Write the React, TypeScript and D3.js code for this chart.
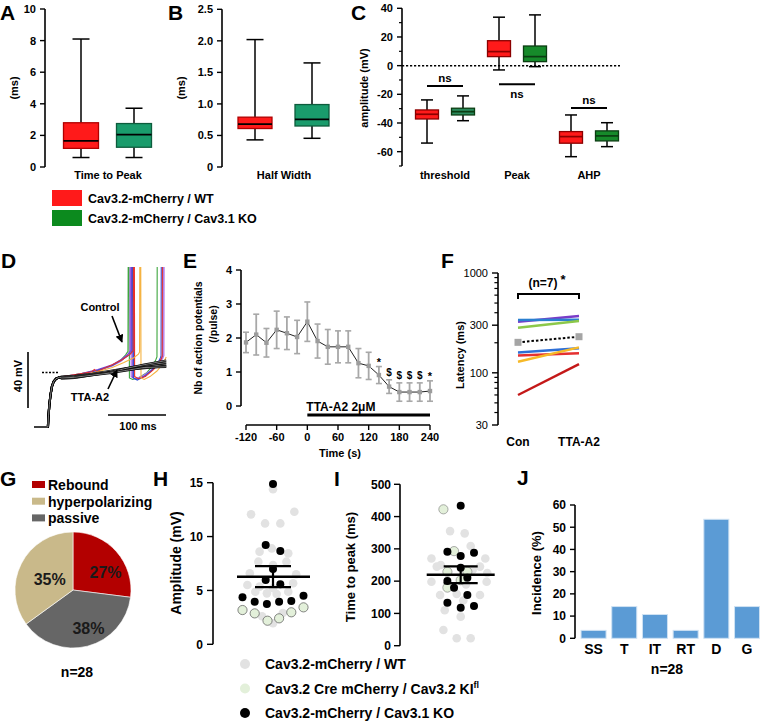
import React from "react";
import * as d3 from "d3";

const FF = "'Liberation Sans', Arial, Helvetica, sans-serif";

// ---------- DATA ----------
// box stats: [min, q1, median, q3, max]
const aWT = [0.6, 1.18, 1.65, 2.8, 8.1];
const aKO = [0.6, 1.25, 2.05, 2.75, 3.72];
const aTicks = [0, 2, 4, 6, 8, 10];
const bWT = [0.43, 0.61, 0.68, 0.79, 2.02];
const bKO = [0.455, 0.65, 0.756, 0.99, 1.65];
const bTicks = [0, 0.5, 1.0, 1.5, 2.0, 2.5];
const cCategories = ["threshold", "Peak", "AHP"];
const cWT = [
  [-54, -37.2, -33.9, -30.9, -23.9],
  [-3, 6.3, 9.8, 17.4, 33.8],
  [-63.5, -54.1, -49.5, -46, -34.4],
];
const cKO = [
  [-38.4, -34.4, -32.1, -29.7, -21.1],
  [-0.7, 2.8, 6.3, 13.7, 35.4],
  [-56.5, -52.5, -49, -45.5, -39.8],
];
const cNsLevel = [-14.2, -13, -29.5];
const cTicks = [40, 20, 0, -20, -40, -60];
const cMinor = [30, 10, -10, -30, -50, -70];
const legendAC = ["Cav3.2-mCherry / WT", "Cav3.2-mCherry / Cav3.1 KO"];

// D traces: [time ms, mV]
const dStart = [[0, -90], [24, -90], [25, -82], [26.5, -74], [28.5, -67], [31, -61], [34, -57.5], [38, -55.5], [44, -54.5]];
const dControl = [
  { color: "#3da63d", pts: [[50, -54], [80, -52], [110, -49.5], [135, -46], [150, -42], [158, -38.5], [162, -36], [162.5, 40], [164, 40], [164.5, -55], [170, -56], [180, -55], [195, -51], [205, -46], [210, -42], [212, -40], [212.5, 40]] },
  { color: "#b57be8", pts: [[50, -54.5], [80, -52.5], [110, -50], [135, -46.5], [150, -43], [160, -39], [165, -36.5], [165.5, 40], [167, 40], [167.5, -54], [174, -55.5], [185, -54], [200, -50], [215, -45], [222, -41], [224, -39], [224.5, 40]] },
  { color: "#8040d8", pts: [[50, -54], [80, -52], [110, -49], [135, -45.5], [150, -42], [162, -38], [167, -35.5], [167.5, 40], [169, 40], [169.5, -54.5], [176, -56], [188, -54], [202, -50], [214, -45], [220, -41], [222, -39], [222.5, 40]] },
  { color: "#3050d8", pts: [[50, -54.5], [80, -52.5], [110, -49.5], [135, -46], [152, -42], [164, -38.5], [169, -36], [169.5, 40], [171, 40], [171.5, -55], [178, -56.5], [190, -54], [204, -49], [214, -44], [218, -40.5], [219, -39], [219.5, 40]] },
  { color: "#e8302a", pts: [[50, -54], [80, -52], [100, -50.5], [104, -49], [108, -50.5], [135, -45.5], [152, -42], [166, -38], [171, -35.5], [171.5, 40], [173, 40], [173.5, -54], [180, -55.5], [192, -54], [206, -49], [216, -44], [220, -40.5], [221, -39], [221.5, 40]] },
  { color: "#f5b342", pts: [[50, -54.5], [80, -53], [110, -50.5], [135, -47.5], [155, -44], [172, -40.5], [180, -38], [182, -36.5], [182.5, 40], [184, 40], [184.5, -55], [190, -56], [200, -54], [212, -50], [222, -45], [228, -40]] },
];
const dTTA = [
  [[48, -55], [70, -54], [100, -52.5], [130, -50.5], [160, -48.5], [190, -47], [228, -45.5]],
  [[48, -54], [70, -53.5], [100, -52], [130, -50], [160, -48], [190, -46], [228, -44]],
  [[48, -55.5], [70, -55], [100, -53], [130, -51], [160, -49], [190, -48], [228, -46.5]],
  [[48, -54.5], [70, -54], [100, -52.5], [130, -51], [160, -48], [190, -45.5], [228, -42.5]],
  [[48, -55], [70, -54.5], [100, -53], [130, -51.5], [160, -49.5], [190, -47.5], [228, -47]],
];

// E
const eTime = [-120, -100, -80, -60, -40, -20, 0, 20, 40, 60, 80, 100, 120, 140, 160, 180, 200, 220, 240];
const eMean = [1.87, 2.1, 1.86, 2.24, 2.14, 2.03, 2.48, 1.91, 1.74, 1.74, 1.74, 1.26, 1.18, 0.91, 0.57, 0.41, 0.41, 0.41, 0.44];
const eSem = [0.3, 0.6, 0.42, 0.55, 0.48, 0.49, 0.58, 0.5, 0.51, 0.47, 0.47, 0.43, 0.4, 0.25, 0.2, 0.27, 0.27, 0.27, 0.3];
const eMarks = ["", "", "", "", "", "", "", "", "", "", "", "", "", "*", "$", "$", "$", "$", "*"];
const eXTicks = [-120, -60, 0, 60, 120, 180, 240];
const eYTicks = [0, 1, 2, 3, 4];

// F
const fConds = ["Con", "TTA-A2"];
const fCells = [
  { color: "#7a3cc8", con: 325, tta: 371 },
  { color: "#2a7fd0", con: 338, tta: 340 },
  { color: "#8cc84a", con: 283, tta: 330 },
  { color: "#2e6fd6", con: 160, tta: 176 },
  { color: "#e53030", con: 149, tta: 157 },
  { color: "#f6b928", con: 129, tta: 180 },
  { color: "#c41818", con: 60, tta: 122 },
];
const fMean = [202, 230];
const fMajor = [30, 100, 300, 1000];
const fMinor = [40, 50, 60, 70, 80, 90, 200, 400, 500, 600, 700, 800, 900];

// G
const gSlices = [
  { name: "Rebound", value: 27, color: "#b30000" },
  { name: "passive", value: 38, color: "#666666" },
  { name: "hyperpolarizing", value: 35, color: "#c9b98a" },
];
const gLegendOrder = ["Rebound", "hyperpolarizing", "passive"];

// H: [value, jitter slot]
const hGrey = [[14.4, 0], [12.06, -1.8], [12.3, 1.75], [11.22, -0.65], [11.22, 0.6], [8.9, -0.1], [8.6, -1.1], [8.44, 1.25], [7.67, -1.2], [7.67, 1.1], [7.36, 0], [6.6, -1.9], [6.5, 1.9], [5.5, -2.1], [5.66, 1.65], [5.35, -1.1], [5.2, 0], [4.88, -1.45], [4.88, 1.25], [4.73, -0.5], [4.67, 0.3], [1.95, 0], [2.6, -0.9], [2.9, 0.8]];
const hGreen = [[3.18, -2.5], [2.87, -1.5], [2.19, -0.45], [2.41, 0.5], [2.97, 1.5], [3.43, 2.5]];
const hBlack = [[14.87, 0], [9.21, -0.6], [8.66, 0.6], [6.98, 0], [5.96, -0.6], [5.57, 0.6], [4.36, -2.5], [3.95, -1.5], [3.74, -0.5], [3.95, 0.5], [4.02, 1.5], [4.51, 2.5]];
const hStats = { mean: 6.27, hi: 7.26, lo: 5.3 };
const hTicks = [0, 5, 10, 15];

// I
const iGrey = [[355, -0.8], [348, 0.3], [309, 0.75], [270, -2.2], [270, 1.85], [250, -1.5], [245, -1.8], [245, 1.45], [235, 0.9], [225, 2.0], [198, -2.2], [198, 1.95], [190, 0.4], [157, -1.55], [157, 1.45], [110, -1.2], [90, 0], [48.6, -1.3], [23, -0.3], [23, 0.75], [160, -0.3], [140, 0.2]];
const iGreen = [[422.5, -1.3], [293, -0.5], [229, -1], [229, 0.5], [180, -1], [203, 0]];
const iBlack = [[433.7, 0], [291, -1], [288, 1], [278, 0], [241.6, 0], [210.7, 0.5], [200.4, -1], [179.7, -0.5], [157, 0.5], [133, -1], [117.7, 0], [123, 1]];
const iStats = { mean: 220, hi: 246, lo: 194 };
const iTicks = [0, 100, 200, 300, 400, 500];
const hiLegend = ["Cav3.2-mCherry / WT", "Cav3.2 Cre mCherry / Cav3.2 KI", "Cav3.2-mCherry / Cav3.1 KO"];

// J
const jCats = ["SS", "T", "IT", "RT", "D", "G"];
const jVals = [3.57, 14.29, 10.71, 3.57, 53.57, 14.29];
const jTicks = [0, 10, 20, 30, 40, 50, 60];

// ---------- COLORS ----------
const RED = "#ff1a1a";
const GREEN_AB = "#1a9c6c";
const GREEN_C = "#168a2a";
const GREEN_LEG = "#0c8a1e";

// ---------- HELPERS ----------
function YAxis({ x, y, ticks, minor = [], fmt = (d: number) => String(d), fs = 11, bold = true, tick = 5, lo, hi, gap = 4 }: any) {
  return (
    <g>
      <line x1={x} x2={x} y1={y(lo)} y2={y(hi)} stroke="#000" strokeWidth={1.6} />
      {ticks.map((t: number) => (
        <g key={"t" + t}>
          <line x1={x - tick} x2={x} y1={y(t)} y2={y(t)} stroke="#000" strokeWidth={1.4} />
          <text x={x - tick - gap} y={y(t)} dy="0.36em" textAnchor="end" fontSize={fs} fontWeight={bold ? "bold" : "normal"}>{fmt(t)}</text>
        </g>
      ))}
      {minor.map((t: number) => (
        <line key={"m" + t} x1={x - tick * 0.6} x2={x} y1={y(t)} y2={y(t)} stroke="#000" strokeWidth={1.2} />
      ))}
    </g>
  );
}

function Box({ cx, w, v, y, fill, stroke, med, capW }: any) {
  const [mn, q1, md, q3, mx] = v;
  return (
    <g>
      <line x1={cx} x2={cx} y1={y(mn)} y2={y(q1)} stroke="#000" strokeWidth={1.5} />
      <line x1={cx} x2={cx} y1={y(q3)} y2={y(mx)} stroke="#000" strokeWidth={1.5} />
      <line x1={cx - capW / 2} x2={cx + capW / 2} y1={y(mn)} y2={y(mn)} stroke="#000" strokeWidth={1.5} />
      <line x1={cx - capW / 2} x2={cx + capW / 2} y1={y(mx)} y2={y(mx)} stroke="#000" strokeWidth={1.5} />
      <rect x={cx - w / 2} y={y(q3)} width={w} height={y(q1) - y(q3)} fill={fill} stroke={stroke} strokeWidth={1.3} />
      <line x1={cx - w / 2} x2={cx + w / 2} y1={y(md)} y2={y(md)} stroke={med} strokeWidth={1.7} />
    </g>
  );
}

function RotLabel({ x, y, text, fs = 11, bold = true }: any) {
  return (
    <text transform={`translate(${x},${y}) rotate(-90)`} textAnchor="middle" dy="0.35em" fontSize={fs} fontWeight={bold ? "bold" : "normal"}>{text}</text>
  );
}

function PanelLetter({ x, y, l }: any) {
  return <text x={x} y={y} fontSize={21} fontWeight="bold">{l}</text>;
}

export default function App() {
  // ---- A ----
  const aY = d3.scaleLinear().domain([0, 10]).range([167, 9]);
  const aX = 108;
  // ---- B ----
  const bY = d3.scaleLinear().domain([0, 2.5]).range([167, 9.3]);
  const bX = 284;
  // ---- C ----
  const cY = d3.scaleLinear().domain([-70, 40]).range([166, 8.3]);
  const cX = d3.scalePoint().domain(cCategories).range([445, 589]);
  const cOff = 18;

  // ---- D ----
  const dX = d3.scaleLinear().domain([0, 100]).range([34, 92]);
  const dY = d3.scaleLinear().domain([-90, -50]).range([427, 371]);
  const dLine = d3.line<number[]>().x((d) => dX(d[0])).y((d) => dY(d[1]));

  // ---- E ----
  const eX = d3.scaleLinear().domain([-120, 240]).range([246, 430]);
  const eY = d3.scaleLinear().domain([0, 4]).range([406, 270]);
  const eLine = d3.line<number>().x((_, i) => eX(eTime[i])).y((d) => eY(d));

  // ---- F ----
  const fY = d3.scaleLog().domain([30, 1000]).range([425, 273]);
  const fX = d3.scalePoint().domain(fConds).range([518, 579]);

  // ---- G ----
  const gCx = 73, gCy = 590, gR = 58;
  const pie = d3.pie<any>().sort(null).value((d) => d.value);
  const arcs = pie(gSlices);
  const arc = d3.arc<any>().innerRadius(0).outerRadius(gR);
  const labArc = d3.arc<any>().innerRadius(34).outerRadius(34);

  // ---- H ----
  const hY = d3.scaleLinear().domain([0, 15]).range([644.3, 482.7]);
  const hX = d3.scaleLinear().domain([-1, 1]).range([273 - 12.2, 273 + 12.2]);
  // ---- I ----
  const iY = d3.scaleLinear().domain([0, 500]).range([645.7, 484.3]);
  const iX = d3.scaleLinear().domain([-1, 1]).range([460.7 - 13.3, 460.7 + 13.3]);

  // ---- J ----
  const jY = d3.scaleLinear().domain([0, 60]).range([638.3, 505]);
  const jX = d3.scaleBand().domain(jCats).range([578.2, 762.4]).paddingInner(0.185).paddingOuter(0.0925);

  return (
    <svg width={760} height={721} style={{ position: "absolute", left: 0, top: 0, background: "#fff" }} fontFamily={FF}>
      <defs>
        <marker id="arr" viewBox="0 0 10 10" refX="9" refY="5" markerWidth="5" markerHeight="5" orient="auto">
          <path d="M0,0 L10,5 L0,10 z" fill="#000" />
        </marker>
        <clipPath id="dclip">
          <rect x={0} y={267} width={200} height={180} />
        </clipPath>
      </defs>
      <rect x={0} y={0} width={760} height={721} fill="#fff" />

      {/* ================= A ================= */}
      <PanelLetter x={0} y={20} l="A" />
      <YAxis x={45} y={aY} ticks={aTicks} lo={0} hi={10} />
      <RotLabel x={14} y={88} text="(ms)" />
      <Box cx={aX - 27} w={35} v={aWT} y={aY} fill={RED} stroke="#b00000" med="#000" capW={17} />
      <Box cx={aX + 26} w={35} v={aKO} y={aY} fill={GREEN_AB} stroke="#0d5c3c" med="#000" capW={17} />
      <text x={aX} y={179} textAnchor="middle" fontSize={11} fontWeight="bold">Time to Peak</text>

      {/* ================= B ================= */}
      <PanelLetter x={168} y={20} l="B" />
      <YAxis x={222} y={bY} ticks={bTicks} lo={0} hi={2.5} fmt={(d: number) => (d === 0 ? "0" : d.toFixed(1))} />
      <RotLabel x={181} y={88} text="(ms)" />
      <Box cx={bX - 29} w={34} v={bWT} y={bY} fill={RED} stroke="#b00000" med="#000" capW={17} />
      <Box cx={bX + 28} w={34} v={bKO} y={bY} fill={GREEN_AB} stroke="#0d5c3c" med="#000" capW={17} />
      <text x={bX} y={179} textAnchor="middle" fontSize={11} fontWeight="bold">Half Width</text>

      {/* ================= C ================= */}
      <PanelLetter x={351} y={20} l="C" />
      <YAxis x={402} y={cY} ticks={cTicks} minor={cMinor} lo={-70} hi={40} tick={5} />
      <RotLabel x={364} y={88} text="amplitude (mV)" />
      <line x1={402} x2={620} y1={cY(0)} y2={cY(0)} stroke="#000" strokeWidth={1.5} strokeDasharray="2.2,1.8" />
      {cCategories.map((c, i) => {
        const cx = cX(c) as number;
        return (
          <g key={c}>
            <Box cx={cx - cOff} w={23} v={cWT[i]} y={cY} fill={RED} stroke="#8b0000" med="#8b0000" capW={12} />
            <Box cx={cx + cOff} w={23} v={cKO[i]} y={cY} fill={i === 0 ? "#2a8a5c" : GREEN_C} stroke="#0b3d12" med="#0b3d12" capW={12} />
            <line x1={cx - cOff} x2={cx + cOff} y1={cY(cNsLevel[i])} y2={cY(cNsLevel[i])} stroke="#000" strokeWidth={2} />
            <text x={cx} y={cY(cNsLevel[i]) + (i === 1 ? 14 : -4)} textAnchor="middle" fontSize={11.5} fontWeight="bold">ns</text>
            <text x={cx} y={179} textAnchor="middle" fontSize={11} fontWeight="bold">{c}</text>
          </g>
        );
      })}

      {/* legend A-C */}
      {legendAC.map((t, i) => (
        <g key={t}>
          <rect x={52} y={190 + i * 20} width={30} height={16} fill={i === 0 ? RED : GREEN_LEG} />
          <text x={88} y={198 + i * 20} dy="0.36em" fontSize={12.5} fontWeight="bold">{t}</text>
        </g>
      ))}

      {/* ================= D ================= */}
      <PanelLetter x={1} y={268} l="D" />
      <g clipPath="url(#dclip)">
        {dControl.map((tr, i) => (
          <path key={"c" + i} d={dLine(dStart.concat(tr.pts)) || ""} fill="none" stroke={tr.color} strokeWidth={1.1} />
        ))}
        {dTTA.map((tr, i) => (
          <g key={"t" + i}>
            <path d={dLine(dStart.concat(tr)) || ""} fill="none" stroke="#000" strokeWidth={2.2} />
            <path d={dLine(dStart.concat(tr)) || ""} fill="none" stroke="#fff" strokeWidth={0.5} />
          </g>
        ))}
      </g>
      <line x1={42} x2={58} y1={dY(-51)} y2={dY(-51)} stroke="#000" strokeWidth={1.5} strokeDasharray="2,1.5" />
      {/* scale bars */}
      <line x1={28} x2={28} y1={408} y2={408 - (dY(-90) - dY(-50))} stroke="#000" strokeWidth={1.6} />
      <RotLabel x={18} y={376} text="40 mV" />
      <line x1={108} x2={108 + (dX(100) - dX(0))} y1={415} y2={415} stroke="#000" strokeWidth={1.6} />
      <text x={138} y={430} textAnchor="middle" fontSize={11} fontWeight="bold">100 ms</text>
      <text x={100} y={311} textAnchor="middle" fontSize={11} fontWeight="bold">Control</text>
      <line x1={112} y1={316} x2={122} y2={342} stroke="#000" strokeWidth={1.6} markerEnd="url(#arr)" />
      <text x={90} y={401} textAnchor="middle" fontSize={11} fontWeight="bold">TTA-A2</text>
      <line x1={108} y1={389} x2={117} y2={370} stroke="#000" strokeWidth={1.6} markerEnd="url(#arr)" />

      {/* ================= E ================= */}
      <PanelLetter x={183} y={268} l="E" />
      <YAxis x={241} y={eY} ticks={eYTicks} lo={0} hi={4} />
      <RotLabel x={198} y={338} text="Nb of action potentials" fs={10.5} />
      <RotLabel x={213} y={324} text="(/pulse)" fs={10.5} />
      <line x1={eX(-120)} x2={eX(240)} y1={425} y2={425} stroke="#000" strokeWidth={1.6} />
      {eXTicks.map((t) => (
        <g key={t}>
          <line x1={eX(t)} x2={eX(t)} y1={425} y2={430} stroke="#000" strokeWidth={1.4} />
          <text x={eX(t)} y={441} textAnchor="middle" fontSize={11} fontWeight="bold">{t}</text>
        </g>
      ))}
      <text x={340} y={457} textAnchor="middle" fontSize={11} fontWeight="bold">Time (s)</text>
      <path d={eLine(eMean) || ""} fill="none" stroke="#222" strokeWidth={1} />
      {eMean.map((m, i) => {
        const x = eX(eTime[i]);
        return (
          <g key={i}>
            <line x1={x} x2={x} y1={eY(m - eSem[i])} y2={eY(m + eSem[i])} stroke="#a8a8a8" strokeWidth={1.8} />
            <line x1={x - 3} x2={x + 3} y1={eY(m - eSem[i])} y2={eY(m - eSem[i])} stroke="#a8a8a8" strokeWidth={1.6} />
            <line x1={x - 3} x2={x + 3} y1={eY(m + eSem[i])} y2={eY(m + eSem[i])} stroke="#a8a8a8" strokeWidth={1.6} />
            <rect x={x - 2.2} y={eY(m) - 2.2} width={4.4} height={4.4} fill="#9c9c9c" />
            {eMarks[i] && (
              <text x={x} y={eY(m + eSem[i]) - (eMarks[i] === "$" ? 4 : 1)} textAnchor="middle" fontSize={eMarks[i] === "$" ? 10 : 11} fontWeight="bold">{eMarks[i]}</text>
            )}
          </g>
        );
      })}
      <line x1={eX(0)} x2={eX(240)} y1={415} y2={415} stroke="#000" strokeWidth={3} />
      <text x={eX(0) - 1} y={411} fontSize={12} fontWeight="bold">TTA-A2 2μM</text>

      {/* ================= F ================= */}
      <PanelLetter x={441} y={268} l="F" />
      <YAxis x={498} y={fY} ticks={fMajor} minor={fMinor} lo={30} hi={1000} bold={false} tick={6} fs={11} />
      <RotLabel x={460} y={355} text="Latency (ms)" fs={11} />
      {fCells.map((c, i) => (
        <line key={i} x1={fX("Con")} x2={fX("TTA-A2")} y1={fY(c.con)} y2={fY(c.tta)} stroke={c.color} strokeWidth={2.4} />
      ))}
      <line x1={fX("Con")} x2={fX("TTA-A2")} y1={fY(fMean[0])} y2={fY(fMean[1])} stroke="#000" strokeWidth={2} strokeDasharray="2.5,2" />
      {fConds.map((c, i) => (
        <rect key={c} x={(fX(c) as number) - 3.5} y={fY(fMean[i]) - 3.5} width={7} height={7} fill="#a5a5a5" />
      ))}
      <path d={`M${fX("Con")},299 V294 H${fX("TTA-A2")} V299`} fill="none" stroke="#000" strokeWidth={2} />
      <text x={543} y={287} textAnchor="middle" fontSize={12} fontWeight="bold">(n=7)</text>
      <text x={563} y={284} textAnchor="middle" fontSize={13} fontWeight="bold">*</text>
      {fConds.map((c) => (
        <text key={c} x={fX(c)} y={446} textAnchor="middle" fontSize={12} fontWeight="bold">{c}</text>
      ))}

      {/* ================= G ================= */}
      <PanelLetter x={0} y={486} l="G" />
      {gLegendOrder.map((n, i) => {
        const s = gSlices.find((d) => d.name === n)!;
        return (
          <g key={n}>
            <rect x={32} y={481 + i * 16.7} width={13} height={7} fill={s.color} />
            <text x={48} y={485 + i * 16.7} dy="0.36em" fontSize={14} fontWeight="bold">{n}</text>
          </g>
        );
      })}
      <g transform={`translate(${gCx},${gCy})`}>
        {arcs.map((a, i) => (
          <path key={i} d={arc(a) || ""} fill={gSlices[i].color} stroke="#fff" strokeWidth={0.6} />
        ))}
        {arcs.map((a, i) => {
          const [lx, ly] = labArc.centroid(a);
          return (
            <text key={"l" + i} x={lx + 7} y={ly + 5} dy="0.36em" textAnchor="middle" fontSize={16} fontWeight="bold" fill="#1a1a1a">
              {gSlices[i].value + "%"}
            </text>
          );
        })}
      </g>
      <text x={77} y={677} textAnchor="middle" fontSize={14} fontWeight="bold">n=28</text>

      {/* ================= H ================= */}
      <PanelLetter x={153} y={486} l="H" />
      <YAxis x={213} y={hY} ticks={hTicks} lo={0} hi={15} fs={12} tick={6} />
      <RotLabel x={176} y={563} text="Amplitude (mV)" fs={14} />
      {hGrey.map((d, i) => <circle key={"g" + i} cx={hX(d[1])} cy={hY(d[0])} r={4.3} fill="#e2e2e2" />)}
      {hGreen.map((d, i) => <circle key={"n" + i} cx={hX(d[1])} cy={hY(d[0])} r={4.6} fill="#e3f0da" stroke="#555" strokeWidth={0.7} />)}
      {hBlack.map((d, i) => <circle key={"b" + i} cx={hX(d[1])} cy={hY(d[0])} r={4} fill="#000" />)}
      <line x1={hX(0)} x2={hX(0)} y1={hY(hStats.lo)} y2={hY(hStats.hi)} stroke="#000" strokeWidth={2.2} />
      <line x1={hX(0) - 36} x2={hX(0) + 37} y1={hY(hStats.mean)} y2={hY(hStats.mean)} stroke="#000" strokeWidth={2.4} />
      <line x1={hX(0) - 18} x2={hX(0) + 18} y1={hY(hStats.hi)} y2={hY(hStats.hi)} stroke="#000" strokeWidth={2.2} />
      <line x1={hX(0) - 18} x2={hX(0) + 18} y1={hY(hStats.lo)} y2={hY(hStats.lo)} stroke="#000" strokeWidth={2.2} />

      {/* ================= I ================= */}
      <PanelLetter x={334} y={486} l="I" />
      <YAxis x={400} y={iY} ticks={iTicks} lo={0} hi={500} fs={12} tick={6} gap={3} />
      <RotLabel x={350} y={567} text="Time to peak (ms)" fs={13} />
      {iGrey.map((d, i) => <circle key={"g" + i} cx={iX(d[1])} cy={iY(d[0])} r={4.3} fill="#e2e2e2" />)}
      {iGreen.map((d, i) => <circle key={"n" + i} cx={iX(d[1])} cy={iY(d[0])} r={4.6} fill="#e3f0da" stroke="#777" strokeWidth={0.6} />)}
      {iBlack.map((d, i) => <circle key={"b" + i} cx={iX(d[1])} cy={iY(d[0])} r={4} fill="#000" />)}
      <line x1={iX(0)} x2={iX(0)} y1={iY(iStats.lo)} y2={iY(iStats.hi)} stroke="#000" strokeWidth={2.2} />
      <line x1={iX(0) - 34} x2={iX(0) + 34} y1={iY(iStats.mean)} y2={iY(iStats.mean)} stroke="#000" strokeWidth={2.4} />
      <line x1={iX(0) - 17} x2={iX(0) + 17} y1={iY(iStats.hi)} y2={iY(iStats.hi)} stroke="#000" strokeWidth={2.2} />
      <line x1={iX(0) - 17} x2={iX(0) + 17} y1={iY(iStats.lo)} y2={iY(iStats.lo)} stroke="#000" strokeWidth={2.2} />

      {/* H/I legend */}
      {hiLegend.map((t, i) => (
        <g key={t}>
          <circle cx={245} cy={664 + i * 24.5} r={5} fill={i === 0 ? "#e2e2e2" : i === 1 ? "#e3f0da" : "#000"} />
          <text x={265} y={664 + i * 24.5} dy="0.36em" fontSize={14} fontWeight="bold">
            {t}
            {i === 1 && <tspan dy="-6" fontSize={9}>fl</tspan>}
          </text>
        </g>
      ))}

      {/* ================= J ================= */}
      <PanelLetter x={517} y={485} l="J" />
      <YAxis x={575} y={jY} ticks={jTicks} lo={0} hi={60} fs={12} tick={5} gap={4} />
      <RotLabel x={536} y={573} text="Incidence (%)" fs={13} />
      {jCats.map((c, i) => (
        <g key={c}>
          <rect x={jX(c)} y={jY(jVals[i])} width={jX.bandwidth()} height={jY(0) - jY(jVals[i])} fill="#5b9bd5" stroke="#cfe2f3" strokeWidth={1} />
          <text x={(jX(c) as number) + jX.bandwidth() / 2} y={654} textAnchor="middle" fontSize={14} fontWeight="bold">{c}</text>
        </g>
      ))}
      <text x={667} y={674} textAnchor="middle" fontSize={14} fontWeight="bold">n=28</text>
    </svg>
  );
}
